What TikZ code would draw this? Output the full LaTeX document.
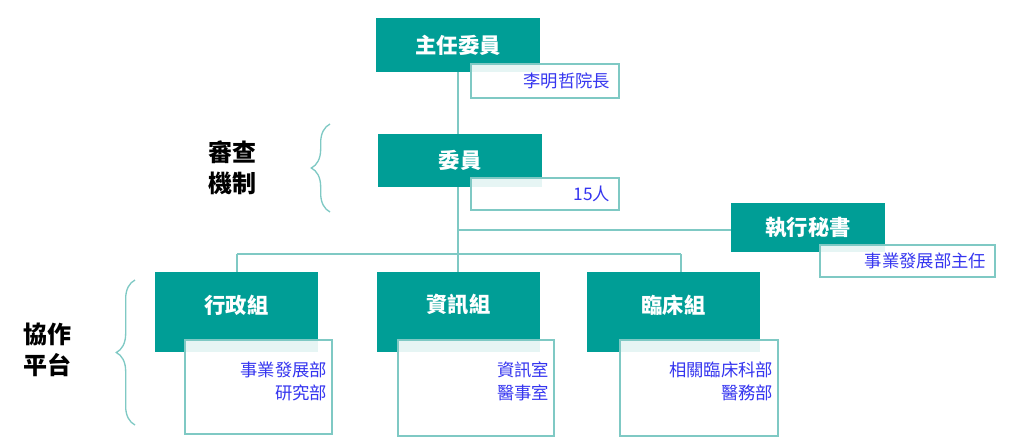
\documentclass[tikz,border=0pt]{standalone}
\usepackage{fontspec}
\newfontfamily\cjk{Noto Sans CJK TC}
\newfontfamily\cjkb{Noto Sans CJK TC}[FakeBold=1.5]
\usetikzlibrary{decorations.pathreplacing}
\definecolor{teal1}{HTML}{009E96}
\definecolor{teal2}{HTML}{7FC9C4}
\definecolor{blu}{HTML}{3535F0}
\begin{document}
\begin{tikzpicture}[x=0.75pt,y=-0.75pt,
  mainbox/.style={fill=teal1,text=white,font=\cjk\bfseries\fontsize{16}{18}\selectfont},
  subbox/.style={draw=teal2,line width=1.2pt,fill=white,fill opacity=0.9,text opacity=1,text=blu,font=\cjk\fontsize{13}{16}\selectfont},
  conn/.style={draw=teal2,line width=1.2pt},
  lbl/.style={font=\cjk\bfseries\fontsize{18}{23}\selectfont,align=center},
  brc/.style={draw=teal2,line width=1pt}]
\useasboundingbox (0,0) rectangle (1016,444);
% connectors
\coordinate (t1) at (458,72);
\coordinate (j1) at (458,230);
\coordinate (j2) at (458,254);
\coordinate (hl) at (237,254);
\coordinate (hr) at (681,254);
\draw[conn] (458,60) -- (458,272);
\draw[conn] (j1) -- (731,230);
\draw[conn] (hl) -- (hr);
\draw[conn] (hl) -- (237,272);
\draw[conn] (hr) -- (681,272);
% main boxes
\fill[teal1] (376,18) rectangle (540,72) node[pos=.5,mainbox] (a) {主任委員};
\fill[teal1] (378,134) rectangle (542,187) node[pos=.5,mainbox] (b) {委員};
\fill[teal1] (731,203) rectangle (885,252) node[pos=.5,mainbox] (c) {執行秘書};
\fill[teal1] (155,272) rectangle (318,352);
\node[mainbox] (g1) at (236.5,305) {行政組};
\fill[teal1] (377,272) rectangle (540,352);
\node[mainbox] (g2) at (458.5,305) {資訊組};
\fill[teal1] (587,272) rectangle (760,352);
\node[mainbox] (g3) at (673.5,305) {臨床組};
% sub boxes
\draw[subbox] (471,64) rectangle (619,98);
\node[text=blu,font=\cjk\fontsize{13}{16}\selectfont,anchor=east] (sa) at (615,81) {李明哲院長};
\draw[subbox] (471,178) rectangle (619,210);
\node[text=blu,font=\cjk\fontsize{13}{16}\selectfont,anchor=east] (sb) at (615,194) {15人};
\draw[subbox] (820,245) rectangle (995,277);
\node[text=blu,font=\cjk\fontsize{13}{16}\selectfont,anchor=east] (sc) at (991,261) {事業發展部主任};
\draw[subbox] (185,340) rectangle (332,434);
\node[text=blu,font=\cjk\fontsize{13}{17}\selectfont,anchor=north east,align=right] (s1) at (332,357) {事業發展部\\研究部};
\draw[subbox] (398,340) rectangle (554,436);
\node[text=blu,font=\cjk\fontsize{13}{17}\selectfont,anchor=north east,align=right] (s2) at (554,357) {資訊室\\醫事室};
\draw[subbox] (620,340) rectangle (778,436);
\node[text=blu,font=\cjk\fontsize{13}{17}\selectfont,anchor=north east,align=right] (s3) at (778,357) {相關臨床科部\\醫務部};
% braces
\draw[brc,decorate,decoration={brace,amplitude=14pt,aspect=0.5}] (330,212) -- (330,124);
\draw[brc,decorate,decoration={brace,amplitude=14pt}] (135,425) -- (135,280);
\node[lbl] (l1) at (232,168) {審查\\機制};
\node[lbl] (l2) at (47,350) {協作\\平台};
\end{tikzpicture}
\end{document}
